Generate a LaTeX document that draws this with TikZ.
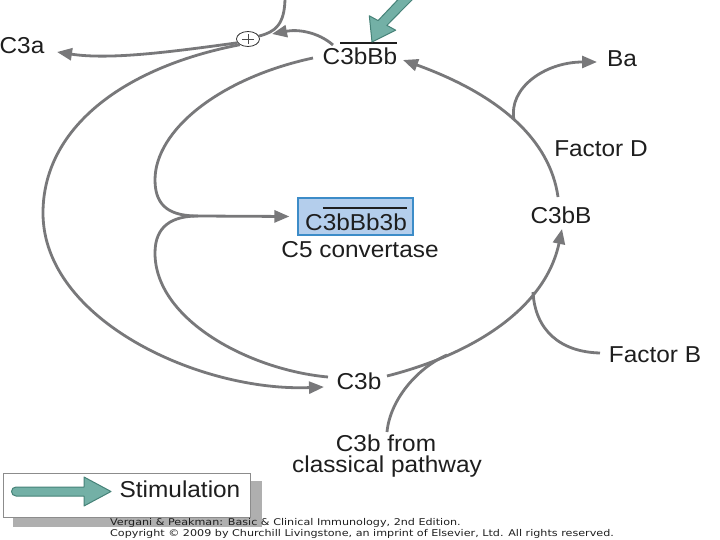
\documentclass[tikz,border=0pt]{standalone}
\usepackage{fontspec}
\setmainfont[FakeStretch=1.06]{Liberation Sans}
\newfontfamily\credfont[FakeStretch=1.2]{DejaVu Sans}
\usetikzlibrary{arrows.meta,shapes.geometric}
\definecolor{lg}{RGB}{120,120,122}
\definecolor{tx}{RGB}{30,30,30}
\definecolor{boxf}{RGB}{180,206,236}
\definecolor{boxb}{RGB}{60,140,200}
\definecolor{tealf}{RGB}{115,176,166}
\definecolor{teald}{RGB}{70,130,120}
\definecolor{shad}{RGB}{175,175,175}
\newcommand\barover[1]{\setbox0\hbox{#1}\rlap{\rule[0.92em]{\wd0}{1.6pt}}\box0}
\begin{document}
\begin{tikzpicture}[x=1pt,y=-1pt,
  ln/.style={draw=lg, line width=2.8pt},
  arr/.style={-{Triangle[length=15pt,width=12pt]}},
  txt/.style={anchor=base, text=tx, inner sep=0pt, font=\fontsize{23}{27}\selectfont},
  cred/.style={anchor=base west, inner sep=0pt, text=tx, font=\credfont\fontsize{9.3}{11}\selectfont}]
\path[use as bounding box, fill=white] (0,0) rectangle (720,540);

% text nodes
\node[txt] (c3a) at (22,54) {C3a};
\node[txt] (c3bbb) at (360,65) {C\barover{3bBb}};
\node[draw=boxb, fill=boxf, line width=1.2pt, minimum width=115pt, minimum height=37pt, inner sep=0pt] (conv) at (355.5,216.5) {};
\node[txt] (convt) at (356,230) {C\barover{3bBb3b}};
\node[txt] (c5) at (360,257) {C5 convertase};
\node[txt] (c3b) at (359,389) {C3b};
\node[txt] (c3bB) at (561,223) {C3bB};
\node[txt] (facD) at (601,157) {Factor D};
\node[txt] (ba) at (622,67) {Ba};
\node[txt] (facB) at (655,362) {Factor B};
\node[txt] (cl1) at (386,451) {C3b from};
\node[txt] (cl2) at (387,472) {classical pathway};

% plus junction
\node[draw=black!80, fill=white, ellipse, minimum width=23pt, minimum height=15pt, inner sep=0pt, line width=0.8pt] (plus) at (248,39) {};
\draw[line width=0.7pt, black!70] ([xshift=-6pt]plus.center) -- ([xshift=6pt]plus.center);
\draw[line width=0.7pt, black!70] ([yshift=-5pt]plus.center) -- ([yshift=5pt]plus.center);

% named free ends
\coordinate (topin) at (285,-3);
\coordinate (c3aend) at (57,52);
\coordinate (c3bin) at (324,387);
\coordinate (innerstart) at (313,58);
\coordinate (cusp) at (198,216);
\coordinate (c3bbbR) at (403,60);
\coordinate (c3bbbL) at (333,45);
\coordinate (plusin) at (272,34);
\coordinate (arcR) at (558,197);
\coordinate (baJ) at (514,120);
\coordinate (baend) at (597,62);
\coordinate (c3bR) at (387,376);
\coordinate (c3bBin) at (562,229);
\coordinate (fbJ) at (533,292);
\coordinate (fbS) at (600,353);
\coordinate (clJ) at (447,355);
\coordinate (clS) at (387,432);
\coordinate (c3bTL) at (328,377);

% connectors
\draw[ln] (topin) .. controls (285,25) and (275,32) .. (plus.15);
\draw[ln,arr] (c3bbbL) .. controls (318,32) and (298,29) .. (plusin);
\draw[ln,arr] (plus.200) .. controls (170,52) and (110,60) .. (c3aend);
\draw[ln,arr] (plus.215) .. controls (120,68) and (43,130) .. (43,213) .. controls (43,320) and (200,392) .. (c3bin);
\draw[ln,arr] (innerstart) .. controls (220,78) and (155,130) .. (155,180) .. controls (155,208) and (172,216) .. (cusp) -- ([xshift=-8pt]conv.west);
\draw[ln] (cusp) .. controls (172,216) and (155,226) .. (155,253) .. controls (155,320) and (250,370) .. (c3bTL);
\draw[ln,arr] (arcR) .. controls (550,140) and (500,95) .. (c3bbbR);
\draw[ln,arr] (baJ) .. controls (508,88) and (545,62) .. (baend);
\draw[ln,arr] (c3bR) .. controls (470,355) and (545,310) .. (c3bBin);
\draw[ln] (fbS) .. controls (560,352) and (535,330) .. (fbJ);
\draw[ln] (clS) .. controls (390,400) and (417,368) .. (clJ);

% stimulation arrow at top
\filldraw[fill=tealf, draw=teald, line width=1pt, line join=round]
  (378.1,20.6) .. controls (388,10) and (396,2) .. (403,-6) -- (413,-1)
  .. controls (404,8) and (396,16) .. (386.9,25.4) -- (395.7,30.2) -- (372,42) -- (369.3,15.8) -- cycle;

% legend
\fill[shad] (13,481) rectangle (262,527);
\node[draw=black!45, fill=white, line width=0.8pt, minimum width=247pt, minimum height=44pt, inner sep=0pt] (legend) at (126.5,495) {};
\filldraw[fill=tealf, draw=teald, line width=1pt, line join=round]
  (16,487) -- (84,487) -- (84,477) -- (111,491.5) -- (84,506) -- (84,496) -- (16,496) arc (90:270:4.5) -- cycle;
\node[txt] (stim) at (180,497) {Stimulation};

% credit lines
\node[cred] (cr1) at (110,525) {Vergani \& Peakman: Basic \& Clinical Immunology, 2nd Edition.};
\node[cred] (cr2) at (110,536.5) {Copyright © 2009 by Churchill Livingstone, an imprint of Elsevier, Ltd. All rights reserved.};
\end{tikzpicture}
\end{document}
